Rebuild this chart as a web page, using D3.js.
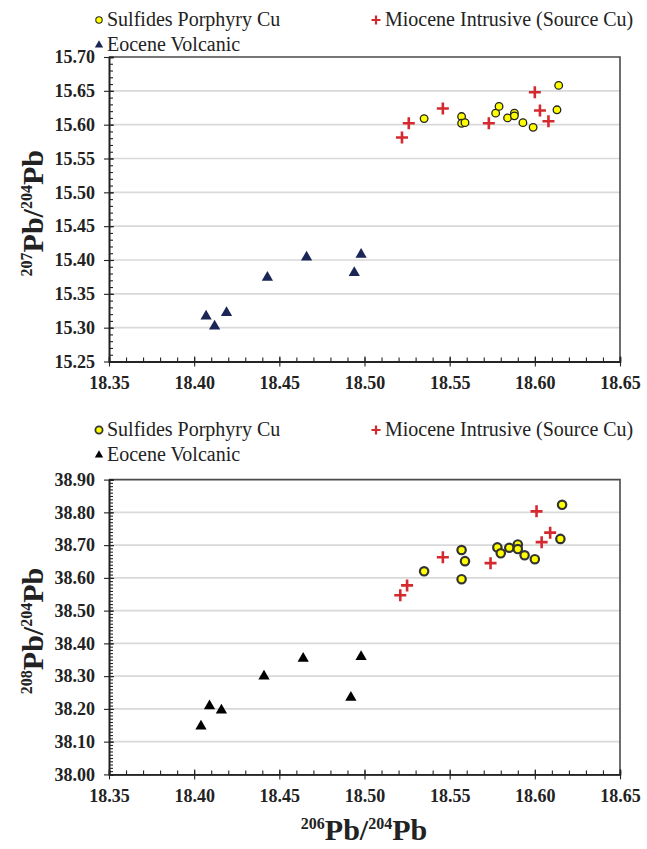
<!DOCTYPE html>
<html><head><meta charset="utf-8">
<script src="https://cdn.jsdelivr.net/npm/d3@7"></script>
<style>body{margin:0;background:#fff}svg{display:block}
svg text{font-family:"Liberation Serif","Times New Roman","DejaVu Serif",serif;}</style>
</head><body><svg id="c" width="647" height="849"></svg>
<script>
// ---- data ----
const xTicks = [18.35, 18.40, 18.45, 18.50, 18.55, 18.60, 18.65];
const y207Ticks = [15.25, 15.30, 15.35, 15.40, 15.45, 15.50, 15.55, 15.60, 15.65, 15.70];
const y208Ticks = [38.00, 38.10, 38.20, 38.30, 38.40, 38.50, 38.60, 38.70, 38.80, 38.90];
const seriesNames = ["Sulfides Porphyry Cu", "Miocene Intrusive (Source Cu)", "Eocene Volcanic"];

const sulfX207 = [18.535, 18.557, 18.557, 18.559, 18.577, 18.579, 18.584, 18.588, 18.588, 18.593, 18.599, 18.614, 18.613];
const sulfY207 = [15.609, 15.612, 15.602, 15.603, 15.617, 15.627, 15.610, 15.617, 15.613, 15.603, 15.596, 15.658, 15.622];
const mioX207 = [18.522, 18.526, 18.546, 18.573, 18.600, 18.603, 18.608];
const mioY207 = [15.581, 15.602, 15.624, 15.602, 15.648, 15.621, 15.605];
const eocX207 = [18.407, 18.412, 18.419, 18.443, 18.466, 18.494, 18.498];
const eocY207 = [15.317, 15.302, 15.322, 15.374, 15.404, 15.381, 15.408];

const sulfX208 = [18.535, 18.557, 18.559, 18.557, 18.578, 18.580, 18.585, 18.590, 18.590, 18.594, 18.600, 18.616, 18.615];
const sulfY208 = [38.620, 38.685, 38.651, 38.596, 38.693, 38.675, 38.692, 38.702, 38.688, 38.669, 38.657, 38.823, 38.719];
const mioX208 = [18.521, 18.525, 18.546, 18.574, 18.601, 18.604, 18.609];
const mioY208 = [38.547, 38.577, 38.663, 38.645, 38.803, 38.709, 38.738];
const eocX208 = [18.404, 18.409, 18.416, 18.441, 18.464, 18.492, 18.498];
const eocY208 = [38.147, 38.209, 38.196, 38.300, 38.354, 38.235, 38.359];

// ---- drawing ----
const svg = d3.select('#c');
const SERIF = '"Liberation Serif","Times New Roman",serif';
const YELLOW = '#ffff00', RED = '#d42a2f';
const x = d3.scaleLinear().domain([18.35, 18.65]).range([109, 620]);

function minorVals(lo, hi, step){
  const out = [];
  const n = Math.round((hi - lo) / step);
  for (let i = 0; i <= n; i++) out.push(+(lo + i * step).toFixed(4));
  return out;
}

function superTitle(g, parts, attrs){
  const t = g.append('text').attr('font-weight', 'bold')
    .attr('text-anchor', 'middle').attr('fill', '#222');
  Object.entries(attrs).forEach(([k, v]) => t.attr(k, v));
  t.append('tspan').attr('font-size', 16).attr('dy', -11).text(parts[0]);
  t.append('tspan').attr('font-size', 30).attr('dy', 11).text('Pb/');
  t.append('tspan').attr('font-size', 16).attr('dy', -11).text(parts[1]);
  t.append('tspan').attr('font-size', 30).attr('dy', 11).text('Pb');
}

function chart(o){
  const g = svg.append('g');
  const y = d3.scaleLinear().domain([o.yTicks[0], o.yTicks[o.yTicks.length - 1]]).range([o.bottom, o.top]);
  const [x0, x1] = x.range();

  g.selectAll('line.grid').data(o.yTicks.slice(1, -1)).join('line')
    .attr('x1', x0).attr('x2', x1).attr('y1', d => y(d)).attr('y2', d => y(d))
    .attr('stroke', '#d9d9d9').attr('stroke-width', 1.6);

  g.append('path').attr('d', `M${x0},${o.top}H${x1}V${o.bottom}`)
    .attr('fill', 'none').attr('stroke', '#4a4a4a').attr('stroke-width', 1.6);

  // y axis
  const yMin = minorVals(o.yTicks[0], o.yTicks[o.yTicks.length - 1], o.yMinor);
  g.append('g').attr('transform', `translate(${x0},0)`)
    .call(d3.axisRight(y).tickValues(yMin).tickSize(4).tickFormat(''));
  g.append('g').attr('transform', `translate(${x0},0)`)
    .call(d3.axisRight(y).tickValues(o.yTicks).tickSize(5).tickFormat(''));
  g.append('g').attr('transform', `translate(${x0},0)`)
    .call(d3.axisLeft(y).tickValues(o.yTicks).tickFormat(d3.format('.2f')).tickSizeInner(5).tickSizeOuter(0).tickPadding(9));

  // x axis
  const xMin = minorVals(18.35, 18.65, 0.01);
  g.append('g').attr('transform', `translate(0,${o.bottom})`)
    .call(d3.axisTop(x).tickValues(xMin).tickSize(4).tickFormat(''));
  g.append('g').attr('transform', `translate(0,${o.bottom})`)
    .call(d3.axisTop(x).tickValues(xTicks).tickSize(5).tickFormat(''));
  g.append('g').attr('transform', `translate(0,${o.bottom})`)
    .call(d3.axisBottom(x).tickValues(xTicks).tickFormat(d3.format('.2f')).tickSizeInner(5).tickSizeOuter(0).tickPadding(10));

  g.selectAll('g').attr('font-family', SERIF);
  g.selectAll('.domain').attr('stroke', '#222').attr('stroke-width', 1.4);
  g.selectAll('.tick line').attr('stroke', '#222').attr('stroke-width', 1.1);
  g.selectAll('.tick text').attr('font-family', SERIF).attr('font-weight', 'bold')
    .attr('font-size', 18).attr('fill', '#222');

  // points
  const sym = d3.symbol().type(d3.symbolTriangle).size(o.triSize);
  g.selectAll('path.eoc').data(o.eocX.map((v, i) => [v, o.eocY[i]])).join('path')
    .attr('d', sym).attr('transform', d => `translate(${x(d[0])},${y(d[1])})`)
    .attr('fill', o.eocColor);
  const cs = 6;
  g.selectAll('path.mio').data(o.mioX.map((v, i) => [v, o.mioY[i]])).join('path')
    .attr('d', `M${-cs},0H${cs}M0,${-cs}V${cs}`)
    .attr('transform', d => `translate(${x(d[0])},${y(d[1])})`)
    .attr('stroke', RED).attr('stroke-width', 2.6).attr('fill', 'none');
  g.selectAll('circle.sulf').data(o.sulfX.map((v, i) => [v, o.sulfY[i]])).join('circle')
    .attr('cx', d => x(d[0])).attr('cy', d => y(d[1])).attr('r', o.circR)
    .attr('fill', YELLOW).attr('stroke', o.circStroke).attr('stroke-width', o.circSW);

  // titles
  superTitle(g, o.yTitle, {transform: `translate(43,${(o.top + o.bottom) / 2 + 4}) rotate(-90)`});

  // legend
  const L = o.legendY;
  const lg = g.append('g').attr('font-size', 20).attr('fill', '#222').attr('font-family', SERIF);
  lg.append('circle').attr('cx', 99).attr('cy', L - 6).attr('r', o.circR - 0.6)
    .attr('fill', YELLOW).attr('stroke', o.circStroke).attr('stroke-width', o.circSW * 0.8);
  lg.append('text').attr('x', 107).attr('y', L).text(seriesNames[0]);
  lg.append('path').attr('d', `M-4.5,0H4.5M0,-4.5V4.5`).attr('transform', `translate(376,${L - 6})`)
    .attr('stroke', RED).attr('stroke-width', 2.2);
  lg.append('text').attr('x', 385).attr('y', L).text(seriesNames[1]);
  lg.append('path').attr('d', d3.symbol().type(d3.symbolTriangle).size(30)).attr('transform', `translate(99,${L + 19})`)
    .attr('fill', o.eocColor);
  lg.append('text').attr('x', 107).attr('y', L + 25).text(seriesNames[2]);
}

chart({top: 57, bottom: 361.5, yTicks: y207Ticks, yMinor: 0.01,
  sulfX: sulfX207, sulfY: sulfY207, mioX: mioX207, mioY: mioY207, eocX: eocX207, eocY: eocY207,
  eocColor: '#1b2657', triSize: 55, circR: 3.8, circStroke: '#222', circSW: 1.3,
  yTitle: ['207', '204'], legendY: 26});

chart({top: 479.6, bottom: 774.4, yTicks: y208Ticks, yMinor: 0.01,
  sulfX: sulfX208, sulfY: sulfY208, mioX: mioX208, mioY: mioY208, eocX: eocX208, eocY: eocY208,
  eocColor: '#000', triSize: 55, circR: 4.2, circStroke: '#333', circSW: 2.2,
  yTitle: ['208', '204'], legendY: 436});

superTitle(svg, ['206', '204'], {x: 364, y: 840});
</script></body></html>
